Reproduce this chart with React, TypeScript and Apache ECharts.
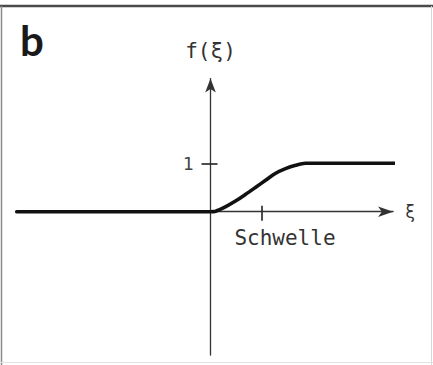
import React, { useEffect, useRef } from "react";
import * as echarts from "echarts";

// Data (x in units of the threshold, y in units of f = 1)
const xi = [-3.8, 0, 0.1, 0.29, 0.49, 0.69, 0.88, 1.08, 1.27, 1.47, 1.67, 1.86, 3.69];
const f = [0, 0, 0.01, 0.1, 0.22, 0.36, 0.5, 0.65, 0.79, 0.89, 0.96, 1.0, 1.0];
const xTicks = [1];
const yTicks = [1];
const yTickLabels = ["1"];
const thresholdLabel = "Schwelle";
const thresholdLabelAt = 1.46;
const xName = "ξ";
const yName = "f(ξ)";
const panelLetter = "b";

const X_MIN = -3.8;
const X_MAX = 3.58;
const Y_MIN = -2.96;
const Y_MAX = 2.75;

const MONO = "'DejaVu Sans Mono', 'Liberation Mono', monospace";

export default function App() {
  const ref = useRef<HTMLDivElement>(null);
  useEffect(() => {
    if (!ref.current) return;
    const chart = echarts.init(ref.current, null, { renderer: "svg" });
    const points = xi.map((x, i) => [x, f[i]]);
    const axisLineStyle = { color: "#333", width: 1.3 };
    const frame = [
      {
        id: "frameTop",
        type: "line",
        shape: { x1: 0, y1: 6, x2: 433, y2: 6 },
        style: { stroke: "#4a4a4a", lineWidth: 2.5 },
        silent: true,
      },
      {
        id: "frameLeft",
        type: "line",
        shape: { x1: 1.5, y1: 6, x2: 1.5, y2: 365 },
        style: { stroke: "#8a8a8a", lineWidth: 1.5 },
        silent: true,
      },
      {
        id: "frameRight",
        type: "line",
        shape: { x1: 431.5, y1: 6, x2: 431.5, y2: 365 },
        style: { stroke: "#d8d8d8", lineWidth: 1 },
        silent: true,
      },
      {
        id: "frameBottom",
        type: "line",
        shape: { x1: 0, y1: 362.5, x2: 433, y2: 362.5 },
        style: { stroke: "#e2e2e2", lineWidth: 1 },
        silent: true,
      },
      {
        id: "letter",
        type: "text",
        left: 20,
        top: 19,
        style: {
          text: panelLetter,
          fontFamily: "Lato, 'DejaVu Sans', sans-serif",
          fontWeight: "bold",
          fontSize: 42,
          fill: "#1a1a1a",
        },
        silent: true,
      },
    ];
    chart.setOption({
      animation: false,
      backgroundColor: "#ffffff",
      grid: {
        left: 16.7,
        top: 78.6,
        width: 376.4,
        height: 276.4,
        containLabel: false,
        outerBoundsMode: "none",
      },
      xAxis: [
        {
          type: "value",
          position: "bottom",
          min: X_MIN,
          max: X_MAX,
          splitLine: { show: false },
          axisLine: {
            show: true,
            onZero: true,
            onZeroAxisIndex: 0,
            lineStyle: axisLineStyle,
            symbol: ["none", "arrow"],
            symbolSize: [8, 15],
          },
          axisTick: {
            show: true,
            customValues: xTicks,
            length: 9,
            lineStyle: { color: "#222", width: 1.6 },
          },
          axisLabel: { show: false },
          name: xName,
          nameLocation: "end",
          nameGap: 12,
          nameTextStyle: { fontFamily: MONO, fontSize: 17, color: "#333" },
        },
        {
          type: "value",
          position: "top",
          min: X_MIN,
          max: X_MAX,
          splitLine: { show: false },
          axisLine: { show: false, onZero: true, onZeroAxisIndex: 0 },
          axisTick: {
            show: true,
            customValues: xTicks,
            length: 6,
            lineStyle: { color: "#222", width: 1.6 },
          },
          axisLabel: { show: false },
        },
      ],
      yAxis: [
        {
          type: "value",
          position: "left",
          min: Y_MIN,
          max: Y_MAX,
          splitLine: { show: false },
          axisLine: {
            show: true,
            onZero: true,
            onZeroAxisIndex: 0,
            lineStyle: axisLineStyle,
            symbol: ["none", "arrow"],
            symbolSize: [8, 14],
          },
          axisTick: {
            show: true,
            customValues: yTicks,
            length: 9,
            lineStyle: { color: "#222", width: 1.6 },
          },
          axisLabel: { show: false },
          name: yName,
          nameLocation: "end",
          nameGap: 17,
          nameTextStyle: { fontFamily: MONO, fontSize: 21, color: "#333" },
        },
        {
          type: "value",
          position: "right",
          min: Y_MIN,
          max: Y_MAX,
          splitLine: { show: false },
          axisLine: { show: false, onZero: true, onZeroAxisIndex: 0 },
          axisTick: {
            show: true,
            customValues: yTicks,
            length: 7,
            lineStyle: { color: "#222", width: 1.6 },
          },
          axisLabel: { show: false },
        },
      ],
      graphic: frame,
      series: [
        {
          type: "line",
          xAxisIndex: 0,
          yAxisIndex: 0,
          data: points,
          smooth: 0.3,
          showSymbol: false,
          clip: false,
          lineStyle: { color: "#111", width: 3.6, cap: "round" },
        },
      ],
    });

    // Tick labels placed through the chart's own scales
    const labelPt = chart.convertToPixel({ gridIndex: 0 }, [thresholdLabelAt, 0]) as number[];
    const yLabels = yTicks.map((v, i) => {
      const p = chart.convertToPixel({ gridIndex: 0 }, [0, v]) as number[];
      return {
        id: "ylab" + i,
        type: "text",
        x: p[0] - 17,
        y: p[1],
        style: {
          text: yTickLabels[i],
          fontFamily: MONO,
          fontSize: 18,
          fill: "#444",
          align: "right",
          verticalAlign: "middle",
        },
        silent: true,
      };
    });
    chart.setOption({
      graphic: [
        ...frame,
        {
          id: "threshold",
          type: "text",
          x: labelPt[0],
          y: labelPt[1] + 26,
          style: {
            text: thresholdLabel,
            fontFamily: MONO,
            fontSize: 21,
            fill: "#333",
            align: "center",
            verticalAlign: "middle",
          },
          silent: true,
        },
        ...yLabels,
      ],
    });
    return () => chart.dispose();
  }, []);
  return (
    <div
      ref={ref}
      style={{ position: "fixed", left: 0, top: 0, width: 433, height: 365, background: "#fff" }}
    />
  );
}
